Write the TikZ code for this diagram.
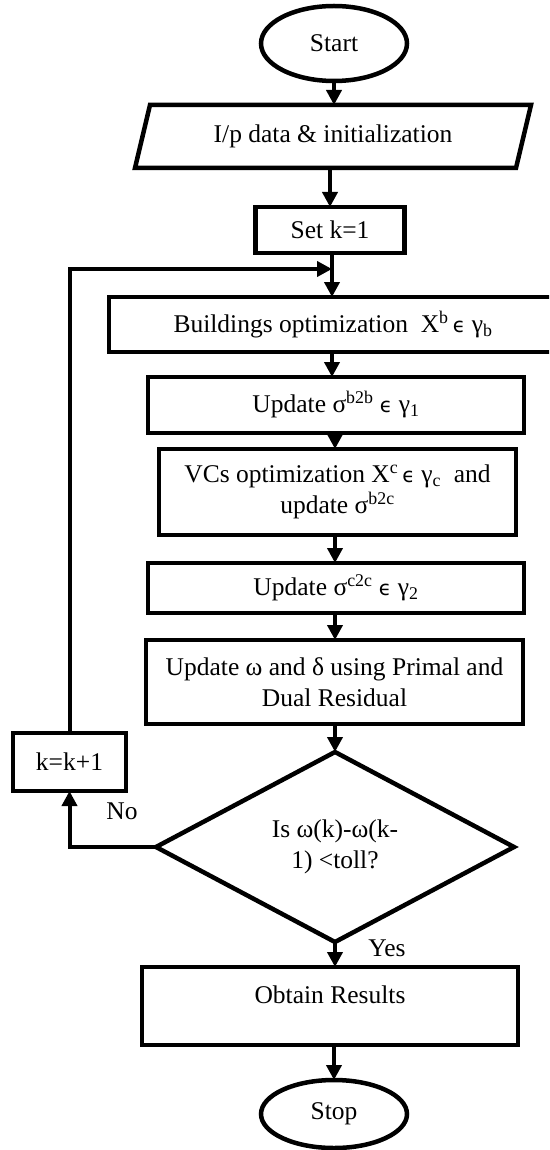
\documentclass[tikz,border=0pt]{standalone}
\usepackage{fontspec}
\setmainfont{Liberation Serif}
\newfontfamily\symf{DejaVu Sans}[Scale=0.8]
\usetikzlibrary{shapes.geometric,arrows.meta}
\newcommand\myeps{{\symf ϵ}}
\begin{document}
\begin{tikzpicture}[x=1pt,y=-1pt,
  every node/.style={font=\fontsize{25.5}{31.5}\selectfont},
  box/.style={draw, line width=4.5pt, rectangle, inner sep=0pt, outer sep=0pt, align=center},
  term/.style={draw, line width=4.5pt, ellipse, inner sep=0pt, outer sep=0pt},
  arr/.style={line width=4pt, -{Triangle[width=15pt,length=15pt]}}]
\useasboundingbox (0,0) rectangle (549,1150);
\clip (0,0) rectangle (549,1150);
\fill[white] (0,0) rectangle (549,1150);

\node[term, minimum width=146pt, minimum height=75pt] (start) at (334,43.5) {Start};
\node[inner sep=0pt, outer sep=0pt, minimum width=381pt, minimum height=63pt] (io) at (333,136.5) {I/p data \& initialization};
\draw[line width=4.5pt, line join=miter] ([xshift=7.5pt]io.north west) -- ([xshift=7.5pt]io.north east) -- ([xshift=-7.5pt]io.south east) -- ([xshift=-7.5pt]io.south west) -- cycle;
\node[box, minimum width=149pt, minimum height=46pt] (setk) at (330,230) {Set k=1};
\coordinate (join) at (332,269);
\node[box, minimum width=448pt, minimum height=55pt] (build) at (333,324.5) {Buildings optimization~ X\textsuperscript{b}\,\myeps\ γ\textsubscript{b}};
\node[box, minimum width=376pt, minimum height=56pt] (b2b) at (336,405) {Update σ\textsuperscript{b2b} \myeps\ γ\textsubscript{1}};
\node[box, minimum width=357pt, minimum height=86pt] (vcs) at (337.5,492) {VCs optimization X\textsuperscript{c}\,\myeps\ γ\textsubscript{c}~ and\\update σ\textsuperscript{b2c}};
\node[box, minimum width=376pt, minimum height=50pt] (c2c) at (336,588) {Update σ\textsuperscript{c2c} \myeps\ γ\textsubscript{2}};
\node[box, minimum width=377pt, minimum height=84pt] (upd) at (334.5,682) {Update ω and δ using Primal and\\Dual Residual};
\node[draw, diamond, line width=4.5pt, minimum width=358pt, minimum height=190pt, inner sep=0pt, outer sep=0pt, align=center] (dec) at (335,847) {Is ω(k)-ω(k-\\1) <toll?};
\node[box, minimum width=113pt, minimum height=58pt] (kk) at (69.5,762) {k=k+1};
\node[box, minimum width=376pt, minimum height=78pt] (obtain) at (330,1006) {\raisebox{0pt}[\height][\dimexpr\depth+22pt\relax]{Obtain Results}};
\node[term, minimum width=146pt, minimum height=68pt] (stop) at (334,1114) {Stop};
\node (no) at (122,811) {No};
\node (yes) at (387,948) {Yes};

\draw[arr] (start.south) -- (start.south |- io.north);
\draw[arr] (setk.north |- io.south) -- (setk.north);
\draw[arr] (join |- setk.south) -- (join |- build.north);
\draw[arr] (kk.north) -- (kk.north |- join) -- (join);
\draw[arr] (join |- build.south) -- (join |- b2b.north);
\draw[arr] (dec.north |- b2b.south) -- (dec.north |- vcs.north);
\draw[arr] (dec.north |- vcs.south) -- (dec.north |- c2c.north);
\draw[arr] (dec.north |- c2c.south) -- (dec.north |- upd.north);
\draw[arr] (dec.north |- upd.south) -- (dec.north);
\draw[arr] (dec.west) -- (kk.south |- dec.west) -- (kk.south);
\draw[arr] (dec.south) -- (dec.south |- obtain.north);
\draw[arr] (stop.north |- obtain.south) -- (stop.north);
\end{tikzpicture}
\end{document}
